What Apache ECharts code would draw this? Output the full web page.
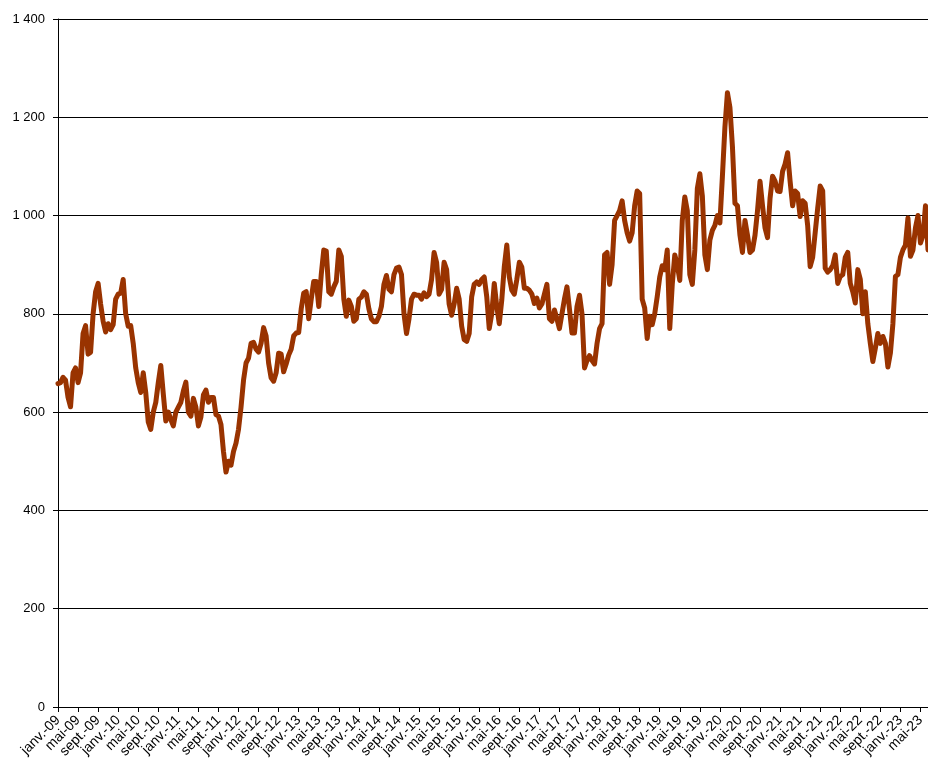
<!DOCTYPE html>
<html>
<head>
<meta charset="utf-8">
<script src="https://cdn.jsdelivr.net/npm/echarts@6/dist/echarts.min.js"></script>
<style>
  html, body { margin: 0; padding: 0; background: #fff; }
  #chart { width: 928px; height: 766px; }
</style>
</head>
<body>
<div id="chart"></div>
<script>
// ── données : 2 points par mois, à partir de janv.-09 ──
const monthNames = ['janv.', 'févr.', 'mars', 'avr.', 'mai', 'juin', 'juil.', 'août', 'sept.', 'oct.', 'nov.', 'déc.'];
const startYear = 2009;
const pointsPerMonth = 2;

const values = [
  658, 660, 671, 665, 630, 611, 680, 690, 660, 680,
  760, 776, 718, 722, 800, 845, 862, 820, 785, 763,
  780, 768, 778, 830, 840, 842, 870, 800, 775, 776,
  740, 690, 660, 640, 680, 640, 580, 565, 600, 620,
  660, 695, 637, 582, 600, 585, 572, 600, 610, 620,
  643, 661, 600, 592, 628, 610, 572, 590, 635, 645,
  620, 630, 630, 595, 592, 575, 520, 478, 500, 492,
  520, 537, 565, 610, 665, 700, 710, 740, 742, 728,
  722, 740, 772, 755, 700, 670, 663, 680, 720, 718,
  682, 698, 716, 728, 755, 761, 762, 810, 842, 845,
  790, 830, 866, 866, 815, 880, 930, 928, 845, 840,
  855, 866, 930, 917, 830, 795, 828, 815, 785, 790,
  830, 834, 845, 840, 810, 790, 784, 784, 795, 815,
  860, 878, 850, 845, 880, 893, 895, 880, 800, 760,
  790, 830, 840, 838, 838, 830, 843, 835, 840, 870,
  925, 905, 840, 850, 905, 890, 820, 797, 820, 852,
  830, 775, 748, 744, 760, 835, 860, 865, 860, 870,
  875, 835, 770, 800, 862, 815, 780, 828, 896, 940,
  875, 848, 840, 870, 905, 895, 852, 852, 848, 840,
  821, 832, 812, 820, 840, 860, 790, 785, 808, 790,
  770, 800, 830, 855, 810, 761, 761, 815, 838, 800,
  690, 705, 715, 705, 698, 740, 770, 780, 920, 925,
  860, 900, 990, 1000, 1010, 1030, 990, 965, 948, 965,
  1020, 1050, 1045, 830, 812, 750, 795, 778, 800, 835,
  875, 898, 890, 930, 770, 860, 920, 900, 868, 990,
  1038, 1010, 880, 860, 930, 1055, 1085, 1040, 920, 890,
  950, 970, 980, 1000, 985, 1080, 1180, 1250, 1220, 1140,
  1025, 1020, 960, 925, 990, 960, 925, 930, 960, 1010,
  1070, 1020, 975, 955, 1035, 1080, 1070, 1050, 1049, 1090,
  1105, 1128, 1070, 1020, 1050, 1045, 998, 1030, 1025, 980,
  896, 915, 965, 1015, 1060, 1050, 893, 885, 890, 898,
  920, 862, 876, 880, 915, 925, 862, 845, 822, 890,
  870, 800, 845, 780, 740, 703, 730, 760, 740, 754,
  740, 692, 720, 780, 876, 880, 915, 930, 940, 995,
  917, 930, 975, 1000, 944, 960, 1020, 930
];

// catégories : "janv.-09", "janv.-09 (2)", "févr.-09", ...
const categories = values.map((_, i) => {
  const m = Math.floor(i / pointsPerMonth);
  const yy = String((startYear + Math.floor(m / 12)) % 100).padStart(2, '0');
  const name = monthNames[m % 12] + '-' + yy;
  return i % pointsPerMonth === 0 ? name : name + ' (' + (i % pointsPerMonth + 1) + ')';
});

const FONT = '"Liberation Sans", Arial, sans-serif';

const chart = echarts.init(document.getElementById('chart'));
chart.setOption({
  animation: false,
  grid: { left: 58, right: 0, top: 19, bottom: 59, containLabel: false },
  xAxis: {
    type: 'category',
    data: categories,
    boundaryGap: false,
    axisLine: { lineStyle: { color: '#000', width: 1 } },
    axisTick: { show: true, interval: 7, length: 5, lineStyle: { color: '#000' } },
    axisLabel: {
      interval: 7, rotate: 45, margin: 11,
      fontFamily: FONT, fontSize: 14, color: '#000'
    },
    splitLine: { show: false }
  },
  yAxis: {
    type: 'value',
    min: 0, max: 1400, interval: 200,
    axisLine: { show: true, lineStyle: { color: '#000', width: 1 } },
    axisTick: { show: true, length: 5, lineStyle: { color: '#000' } },
    axisLabel: {
      margin: 13, fontFamily: FONT, fontSize: 13, color: '#000',
      formatter: v => v >= 1000 ? Math.floor(v / 1000) + ' ' + String(v % 1000).padStart(3, '0') : String(v)
    },
    splitLine: { show: true, lineStyle: { color: '#000', width: 1 } }
  },
  series: [{
    type: 'line',
    data: values,
    symbol: 'none',
    smooth: false,
    lineStyle: { color: '#993300', width: 5, join: 'round', cap: 'round' },
    itemStyle: { color: '#993300' }
  }]
});
</script>
</body>
</html>
